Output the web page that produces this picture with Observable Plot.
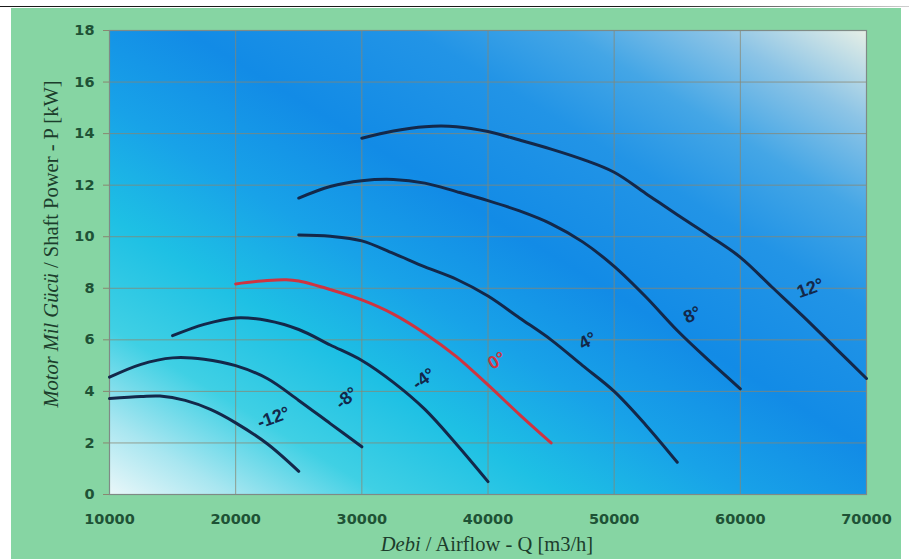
<!DOCTYPE html>
<html><head><meta charset="utf-8">
<script src="https://cdn.jsdelivr.net/npm/d3@7"></script>
<script src="https://cdn.jsdelivr.net/npm/@observablehq/plot@0.6"></script>
<style>
body{margin:0;background:#fff;width:909px;height:559px;overflow:hidden;position:relative}
#topline{position:absolute;left:0;top:6px;width:909px;height:1px;background:linear-gradient(to right,#1a1a1a 0%,#1a1a1a 72%,#d0d0d0 100%)}
#panel{position:absolute;left:11px;top:8px;width:890px;height:551px;background:#86d5a3}
</style></head><body>
<svg width="0" height="0" style="position:absolute"><defs>
<linearGradient id="bg" x1="0" y1="1" x2="1" y2="0">
<stop offset="0" stop-color="#eaf7f9"/>
<stop offset="0.08" stop-color="#a8e6f0"/>
<stop offset="0.18" stop-color="#3fd0e4"/>
<stop offset="0.3" stop-color="#1ec0e4"/>
<stop offset="0.42" stop-color="#18a2e8"/>
<stop offset="0.55" stop-color="#128be6"/>
<stop offset="0.7" stop-color="#2294e6"/>
<stop offset="0.8" stop-color="#44a6e6"/>
<stop offset="0.9" stop-color="#8cc4e6"/>
<stop offset="1" stop-color="#e6efe6"/>
</linearGradient></defs></svg>
<div id="topline"></div><div id="panel"></div>
<script>
// Data: [airflow Q (m3/h), shaft power P (kW)]
const curveM12 = [[10000,3.72],[12500,3.8],[14000,3.82],[16000,3.65],[18000,3.3],[20000,2.78],[22500,1.97],[25000,0.9]];
const curveM8  = [[10000,4.55],[12500,5.05],[15000,5.3],[17500,5.25],[20000,5.0],[22500,4.5],[25000,3.65],[27500,2.75],[30000,1.85]];
const curveM4  = [[15000,6.16],[17500,6.6],[20000,6.85],[22500,6.75],[25000,6.4],[27500,5.8],[30000,5.2],[32500,4.35],[35000,3.3],[37500,1.95],[40000,0.5]];
const curve0   = [[20000,8.17],[22500,8.3],[24000,8.33],[25000,8.28],[27500,7.95],[30000,7.55],[32500,7.0],[35000,6.25],[37500,5.35],[40000,4.25],[42500,3.1],[45000,2.0]];
const curveP4  = [[25000,10.07],[27500,10.02],[30000,9.84],[32500,9.35],[35000,8.83],[37500,8.35],[40000,7.7],[42500,6.85],[45000,6.0],[47500,5.0],[50000,4.0],[52500,2.7],[55000,1.25]];
const curveP8  = [[25000,11.5],[27500,11.95],[30000,12.17],[32500,12.22],[35000,12.08],[37500,11.75],[40000,11.4],[42500,11.0],[45000,10.5],[47500,9.8],[50000,8.85],[52500,7.67],[55000,6.36],[57500,5.2],[60000,4.1]];
const curveP12 = [[30000,13.82],[32500,14.1],[35000,14.27],[37500,14.27],[40000,14.08],[42500,13.75],[45000,13.4],[47500,13.0],[50000,12.5],[52500,11.68],[55000,10.85],[57500,10.05],[60000,9.2],[62500,8.05],[65000,6.9],[67500,5.7],[70000,4.5]];

const labelText  = ["-12°","-8°","-4°","0°","4°","8°","12°"];
const labelQ     = [23000,28800,34900,40700,47900,56200,65550];
const labelP     = [2.98,3.74,4.49,5.19,5.96,6.97,8.0];
const labelAngle = [-20,-40,-35,-30,-28,-25,-20];

const xTicks = [10000,20000,30000,40000,50000,60000,70000];
const yTicks = [0,2,4,6,8,10,12,14,16,18];

const navy = "#13284a", red = "#cf3440";
const navyCurves = [["-12°",curveM12],["-8°",curveM8],["-4°",curveM4],["4°",curveP4],["8°",curveP8],["12°",curveP12]];
const navyRows = navyCurves.flatMap(([k,c]) => c.map(([q,p]) => ({k,q,p})));
const redRows = curve0.map(([q,p]) => ({k:"0°",q,p}));
const labels = labelText.map((t,i) => ({t, q:labelQ[i], p:labelP[i], a:labelAngle[i]}));

const svg = Plot.plot({
  width: 890, height: 551,
  marginLeft: 98, marginRight: 35, marginTop: 22, marginBottom: 65,
  style: {background:"transparent", fontFamily:"DejaVu Sans", fontSize:"14.5px", fontWeight:"bold", color:"#1e5236"},
  x: {domain:[10000,70000], ticks:xTicks, tickFormat:d=>String(d), tickSize:0, tickPadding:19, label:null},
  y: {domain:[0,18], ticks:yTicks, tickSize:6, tickPadding:9, label:null},
  marks: [
    Plot.frame({fill:"url(#bg)"}),
    Plot.ruleY(yTicks, {stroke:"#8a8670", strokeOpacity:0.75, strokeWidth:1}),
    Plot.ruleX(xTicks, {stroke:"#8a8670", strokeOpacity:0.75, strokeWidth:1}),
    Plot.frame({stroke:"#7f8a86", strokeWidth:1.2}),
    Plot.line(navyRows, {x:"q", y:"p", z:"k", stroke:navy, strokeWidth:3, curve:"catmull-rom"}),
    Plot.line(redRows, {x:"q", y:"p", stroke:red, strokeWidth:3, curve:"catmull-rom"}),
    Plot.text(labels.filter(d=>d.t!=="0°"), {x:"q", y:"p", text:"t", rotate:"a", fill:navy, fontSize:18, fontWeight:"bold", fontFamily:"Liberation Sans"}),
    Plot.text(labels.filter(d=>d.t==="0°"), {x:"q", y:"p", text:"t", rotate:"a", fill:red, fontSize:18, fontWeight:"bold", fontFamily:"Liberation Sans"})
  ]
});
svg.style.position = "absolute";
svg.style.left = "11px";
svg.style.top = "8px";
document.body.appendChild(svg);

const s = d3.select(svg);
s.selectAll('[aria-label^="y-axis"] line, [aria-label^="y-axis"] path').attr("stroke", "#8a8670");
const xt = s.append("text").attr("x", 476).attr("y", 543).attr("text-anchor","middle")
  .attr("font-family","Liberation Serif").attr("font-size",20.5).attr("font-weight","normal").attr("fill","#1c3d2c");
xt.append("tspan").attr("font-style","italic").text("Debi");
xt.append("tspan").text(" / Airflow - Q [m3/h]");
const yt = s.append("text").attr("transform","translate(47,236) rotate(-90)").attr("text-anchor","middle")
  .attr("font-family","Liberation Serif").attr("font-size",20.5).attr("font-weight","normal").attr("fill","#1c3d2c");
yt.append("tspan").attr("font-style","italic").text("Motor Mil Gücü");
yt.append("tspan").text(" / Shaft Power - P [kW]");
</script>
</body></html>
